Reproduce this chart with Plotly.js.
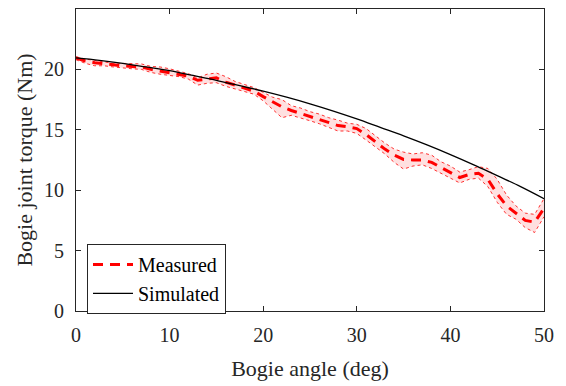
<!DOCTYPE html>
<html>
<head>
<meta charset="utf-8">
<script src="https://cdn.plot.ly/plotly-3.0.1.min.js"></script>
<style>html,body{margin:0;padding:0;background:#fff;}#chart{width:566px;height:386px;}</style>
</head>
<body>
<div id="chart"></div>
<script>
var measX = [0,1,2,3,4,5,6,7,8,9,10,11,12,13,14,15,16,17,18,19,20,21,22,23,24,25,26,27,28,29,30,31,32,33,34,35,36,37,38,39,40,41,42,43,44,45,46,47,48,49,50];
var measY = [20.95,20.7,20.55,20.45,20.35,20.3,20.25,20.2,20.0,19.85,19.75,19.6,19.45,19.1,19.2,19.3,18.95,18.7,18.45,18.2,17.75,17.3,16.9,16.6,16.35,16.1,15.85,15.6,15.35,15.25,15.1,14.6,14.0,13.4,12.9,12.55,12.5,12.5,12.3,11.9,11.5,11.05,11.3,11.4,10.9,9.7,8.7,8.1,7.5,7.35,8.5];
var measLow = [20.8,20.5,20.3,20.3,20.2,20.1,20.05,20.0,19.75,19.6,19.5,19.4,19.2,18.7,18.85,18.9,18.6,18.4,18.2,17.95,17.4,16.7,16.0,16.2,16.0,15.75,15.5,15.2,14.9,14.9,14.7,14.15,13.6,13.0,12.3,11.75,12.0,12.1,11.8,11.4,11.0,10.6,10.9,11.0,10.3,9.0,8.0,7.6,6.9,6.5,7.8];
var measHigh = [21.05,20.85,20.75,20.6,20.5,20.5,20.45,20.45,20.25,20.2,20.05,19.85,19.65,19.3,19.6,19.7,19.4,19.0,18.75,18.5,18.1,17.7,17.5,17.0,16.8,16.5,16.3,16.0,15.8,15.55,15.45,15.1,14.5,13.9,13.4,13.15,13.0,13.1,12.9,12.35,12.0,11.5,11.7,11.95,11.8,10.9,9.6,8.7,8.1,8.0,9.3];
var simX = [0,2.5,5,7.5,10,12.5,15,17.5,20,22.5,25,27.5,30,32.5,35,37.5,40,42.5,45,47.5,50];
var simY = [20.95,20.75,20.5,20.2,19.9,19.5,19.1,18.65,18.2,17.7,17.15,16.55,15.9,15.2,14.5,13.75,12.95,12.1,11.2,10.3,9.3];
var xTicks = [0,10,20,30,40,50];
var yTicks = [0,5,10,15,20,25];
var names = ["Measured","Simulated"];

var FONT = 'Liberation Serif';

var traces = [
  {x: measX, y: measLow, mode: 'lines', line: {color: 'rgba(255,0,0,0.8)', width: 1, dash: 'dot'}, showlegend: false, hoverinfo: 'skip'},
  {x: measX, y: measHigh, mode: 'lines', fill: 'tonexty', fillcolor: 'rgba(255,0,0,0.12)', line: {color: 'rgba(255,0,0,0.8)', width: 1, dash: 'dot'}, showlegend: false, hoverinfo: 'skip'},
  {x: measX, y: measY, mode: 'lines', name: names[0], line: {color: '#ff0000', width: 3, dash: '10px,7px'}},
  {x: simX, y: simY, mode: 'lines', name: names[1], line: {color: '#000000', width: 1.3, shape: 'spline'}}
];

var axisCommon = {
  showgrid: false, zeroline: false, showline: true, linecolor: '#262626', linewidth: 1,
  mirror: 'ticks', ticks: 'inside', ticklen: 5, tickcolor: '#262626',
  tickfont: {family: FONT, size: 20, color: '#262626'}
};

var layout = {
  width: 566, height: 386,
  margin: {l: 76, r: 22, t: 9, b: 75},
  paper_bgcolor: '#fff', plot_bgcolor: '#fff',
  font: {family: FONT, color: '#262626'},
  xaxis: Object.assign({}, axisCommon, {range: [0, 50], tickvals: xTicks, ticktext: xTicks.map(String), ticklabelstandoff: 6,
    title: {text: 'Bogie angle (deg)', font: {size: 22, family: FONT, color: '#262626'}, standoff: 15}}),
  yaxis: Object.assign({}, axisCommon, {range: [0, 25], tickvals: yTicks, ticktext: yTicks.map(String), ticklabelstandoff: 7,
    title: {text: 'Bogie joint torque (Nm)', font: {size: 22, family: FONT, color: '#262626'}, standoff: 5}}),
  legend: {x: 0.0235, y: 0.222, xanchor: 'left', yanchor: 'top', bgcolor: '#fff', bordercolor: '#262626', borderwidth: 1,
    traceorder: 'normal',
    font: {size: 20, family: FONT, color: '#000'}, tracegroupgap: 0, itemwidth: 40},
  showlegend: true
};

Plotly.newPlot('chart', traces, layout, {staticPlot: true, displayModeBar: false});
</script>
</body>
</html>
